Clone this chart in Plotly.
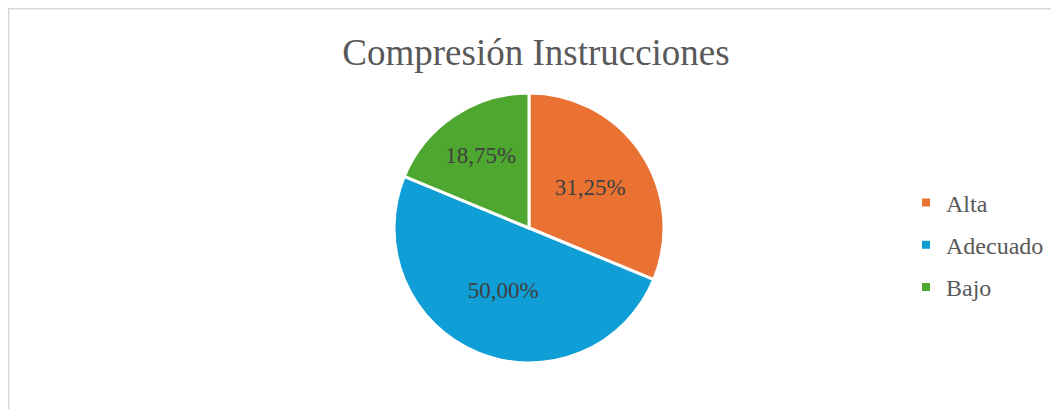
import plotly.graph_objects as go

W, H = 1059, 409

categories = ["Alta", "Adecuado", "Bajo"]
values = [31.25, 50.00, 18.75]
colors = ["#E97132", "#0F9ED5", "#4EA72E"]
labels_text = [f"{v:.2f}".replace(".", ",") + "%" for v in values]

SERIF = "Liberation Serif"

fig = go.Figure()
fig.add_trace(go.Pie(
    labels=categories,
    values=values,
    text=labels_text,
    textinfo="text",
    textposition="inside",
    insidetextorientation="horizontal",
    insidetextfont=dict(family=SERIF, size=23, color="#404040"),
    textfont=dict(family=SERIF, size=23, color="#404040"),
    marker=dict(colors=colors, line=dict(color="white", width=3)),
    sort=False,
    direction="clockwise",
    rotation=0,
    domain=dict(x=[386 / W, 656 / W], y=[54 / H, 324 / H]),
    hoverinfo="label+percent",
    showlegend=False,
))

# legend entries (one group per category so the vertical gap can be set)
for name, col in zip(categories, colors):
    fig.add_trace(go.Scatter(
        x=[None], y=[None], mode="markers", name=name,
        legendgroup=name,
        marker=dict(symbol="square", size=8, color=col),
        showlegend=True, hoverinfo="skip",
    ))

fig.update_layout(
    width=W, height=H,
    margin=dict(l=0, r=0, t=0, b=0),
    font=dict(family=SERIF, color="#595959"),
    paper_bgcolor="white",
    plot_bgcolor="white",
    xaxis=dict(visible=False),
    yaxis=dict(visible=False),
    title=dict(text="Compresión Instrucciones", x=528 / W, xanchor="center",
               y=1 - 44 / H, yanchor="middle",
               font=dict(family=SERIF, size=37, color="#595959")),
    legend=dict(x=898 / W, xanchor="left", y=1 - 237 / H, yanchor="middle",
                traceorder="grouped", tracegroupgap=8, itemwidth=30,
                font=dict(family=SERIF, size=24, color="#595959"),
                bgcolor="rgba(0,0,0,0)"),
    shapes=[dict(type="rect", xref="paper", yref="paper",
                 x0=0.5 / W, x1=1.05, y0=-0.05, y1=1 - 0.5 / H,
                 line=dict(color="#D9D9D9", width=2), fillcolor="rgba(0,0,0,0)")],
)

fig.write_html("out.html")
